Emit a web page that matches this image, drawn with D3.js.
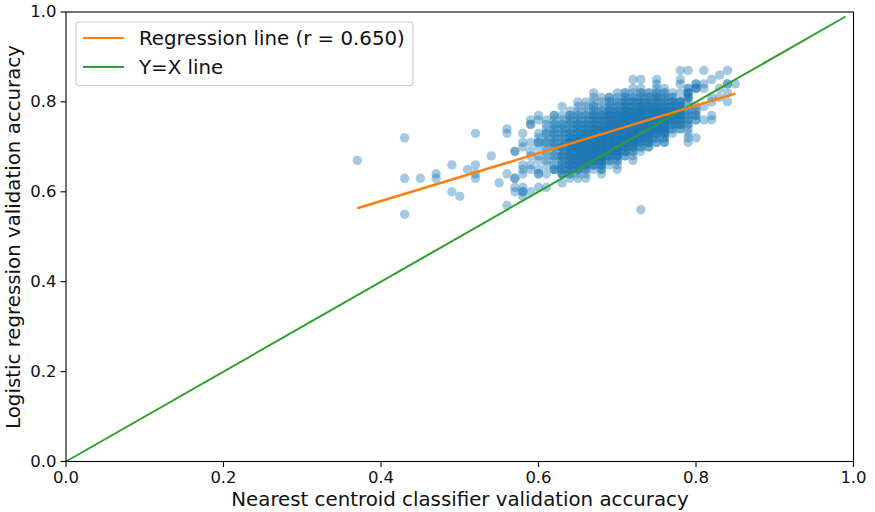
<!DOCTYPE html>
<html><head><meta charset="utf-8">
<script src="https://cdn.jsdelivr.net/npm/d3@7"></script>
<style>html,body{margin:0;background:#fff}svg{display:block}text{font-family:"DejaVu Sans";fill:#111}</style>
</head><body><svg id="c" width="875" height="512"></svg>
<script>
const xTicks=[0,0.2,0.4,0.6,0.8,1];
const yTicks=[0,0.2,0.4,0.6,0.8,1];
const outlierX=[.37,.43,.43,.45,.47,.47,.49,.51,.52,.52,.52,.52,.54,.55,.56,.56,.56,.56,.49,.50,.43,.73];
const outlierY=[.67,.72,.63,.63,.64,.63,.66,.65,.73,.66,.64,.63,.68,.62,.74,.73,.64,.57,.60,.59,.55,.56];
const columnX=[.57,.58,.59,.60,.61,.62,.63,.64,.65,.66,.67,.68,.69,.70,.71,.72,.73,.74,.75,.76,.77,.78,.79,.80,.81,.82,.83,.84,.85];
const columnLow=[.60,.59,.60,.61,.61,.65,.62,.63,.63,.63,.65,.64,.66,.65,.68,.67,.69,.70,.71,.71,.73,.74,.71,.72,.76,.76,.81,.80,.84];
const columnCounts=[
[1,1,0,2,0,0,0,0,0,2],
[1,2,1,0,0,1,1,1,0,0,0,1,1,0,1],
[1,0,0,0,0,1,1,0,1,1,0,1,0,0,0,2,1],
[1,0,0,2,1,0,1,1,0,1,2,1,1,0,0,1,1],
[1,0,0,1,0,1,1,1,1,1,2,1,2,1,1,1],
[3,1,1,2,1,2,2,2,2,2,2,1,2],
[1,0,3,2,3,2,3,2,3,2,2,2,2,2,1,1,0,1],
[1,2,3,4,4,4,4,4,4,3,3,2,2,2,2,1],
[1,1,3,4,5,5,5,5,5,4,3,3,3,2,2,1,1,1],
[1,1,2,4,5,6,6,5,5,4,4,3,3,2,2,1,1,1],
[1,3,5,6,6,6,6,5,5,4,3,3,3,2,2,1,1,1],
[1,2,3,5,6,6,6,6,5,5,4,3,3,3,2,1,1,1],
[1,2,4,6,7,7,6,6,5,5,4,4,3,2,2,2],
[1,1,2,4,6,7,7,7,7,6,5,4,4,3,2,2,1,1],
[2,3,4,6,7,7,6,6,5,5,4,3,3,2,2],
[1,1,2,4,6,7,7,6,6,5,4,4,3,3,2,1,1,0,1],
[1,2,3,5,6,7,7,6,5,5,4,3,2,2,1,0,1],
[2,3,4,5,6,6,6,5,4,4,3,2,2],
[2,2,4,5,6,6,6,5,4,3,3,2,1,1,1],
[2,2,4,5,5,5,5,4,3,3,2,2,1],
[1,2,3,4,4,4,3,3,2,1],
[2,3,4,4,3,3,4,0,1,0,1,1,0,1],
[1,1,1,1,2,2,2,2,1,1,3,3,2,0,0,0,1],
[1,0,0,0,2,2,2,1,0,0,0,3,2],
[1,0,0,1,0,0,0,1,1,0,0,1],
[1,1,0,0,1,1,0,0,0,1],
[1,0,1,0,0,1],
[1,0,1,0,2,0,0,1],
[1]];
const regressionX=[.37,.85];
const regressionY=[.5635,.8185];
const identityX=[0,.99];
const identityY=[0,.99];
const legendLabels=["Regression line (r = 0.650)","Y=X line"];
const legendColors=["#ff7f0e","#2ca02c"];
const xLabel="Nearest centroid classifier validation accuracy";
const yLabel="Logistic regression validation accuracy";

const svg=d3.select("#c");
const x=d3.scaleLinear().domain([0,1]).range([66,853.5]);
const y=d3.scaleLinear().domain([0,1]).range([461.5,12]);
const pts=[];
outlierX.forEach((v,i)=>pts.push([v,outlierY[i]]));
columnX.forEach((v,i)=>columnCounts[i].forEach((n,j)=>{for(let k=0;k<n;k++)pts.push([v,columnLow[i]+j*0.01]);}));
svg.append("g").selectAll("circle").data(pts).join("circle")
 .attr("cx",d=>x(d[0])).attr("cy",d=>y(d[1])).attr("r",4.7).attr("fill","#1f77b4").attr("fill-opacity",0.4);
const line=d3.line().x(d=>x(d[0])).y(d=>y(d[1]));
svg.append("path").attr("d",line(identityX.map((v,i)=>[v,identityY[i]]))).attr("stroke",legendColors[1]).attr("stroke-width",2).attr("fill","none");
svg.append("path").attr("d",line(regressionX.map((v,i)=>[v,regressionY[i]]))).attr("stroke",legendColors[0]).attr("stroke-width",2.5).attr("fill","none");
const gx=svg.append("g").attr("transform","translate(0,461.5)").call(d3.axisBottom(x).offset(0).tickValues(xTicks).tickFormat(d3.format(".1f")).tickSize(5.5).tickPadding(4));
const gy=svg.append("g").attr("transform","translate(66,0)").call(d3.axisLeft(y).offset(0).tickValues(yTicks).tickFormat(d3.format(".1f")).tickSize(5.5).tickPadding(4));
[gx,gy].forEach(g=>{g.selectAll("text").style("font-size","16.5px");g.selectAll("line").attr("stroke","#000").attr("stroke-width",1.1);g.select(".domain").remove();});
svg.append("rect").attr("x",66).attr("y",12).attr("width",787.5).attr("height",449.5).attr("fill","none").attr("stroke","#000").attr("stroke-width",1.1);
svg.append("text").attr("x",460).attr("y",506).attr("text-anchor","middle").style("font-size","19.8px").text(xLabel);
svg.append("text").attr("transform","translate(20,237) rotate(-90)").attr("text-anchor","middle").style("font-size","19.8px").text(yLabel);
const lg=svg.append("g");
lg.append("rect").attr("x",76).attr("y",22).attr("width",337).attr("height",63.5).attr("rx",3).attr("fill","#fff").attr("fill-opacity",.8).attr("stroke","#ccc").attr("stroke-width",1.1);
legendLabels.forEach((t,i)=>{
 const yy=38+i*29;
 lg.append("line").attr("x1",83).attr("x2",124).attr("y1",yy).attr("y2",yy).attr("stroke",legendColors[i]).attr("stroke-width",1.9);
 lg.append("text").attr("x",139).attr("y",yy+7).style("font-size","19.8px").text(t);
});
</script></body></html>
